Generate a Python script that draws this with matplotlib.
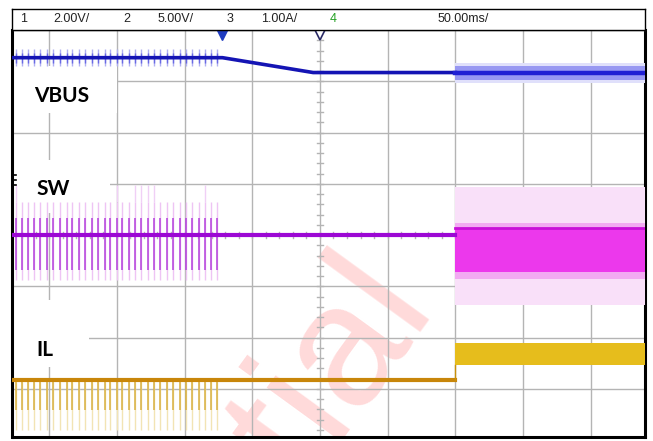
import numpy as np
import matplotlib.pyplot as plt
from matplotlib.patches import Rectangle

# scope settings (header bar)
header_labels = ['1', '2.00V/', '2', '5.00V/', '3', '1.00A/', '4', '50.00ms/']
header_colors = ['#222222'] * 6 + ['#22a022', '#222222']

# time axis in ms (50 ms/div), vertical axis in divisions
t_left, t_right = -227.0, 240.0
div_bottom, div_top = -3.94, 4.0
t_step = 100.0  # load switch-on instant

# switching pulses before VBUS sags (ms)
pulse_t = [-224.5, -220.3, -215.5, -211.0, -206.6, -201.6, -197.0, -192.0,
           -187.1, -182.7, -178.2, -173.4, -168.6, -163.8, -159.0, -155.1,
           -150.2, -145.8, -140.9, -136.6, -132.0, -127.3, -122.6, -118.0,
           -113.2, -108.4, -103.4, -99.0, -94.3, -89.6, -84.9, -80.5, -75.9]
sw_tall_t = [-224.5, -150.2, -136.6, -132.0, -127.3, -122.6, -84.9]

# VBUS (div)
vbus_t = [t_left, -72.0, -5.0, t_step]
vbus_v = [3.46, 3.46, 3.17, 3.17]
vbus_after = 3.17
vbus_band = (3.03, 3.30)
vbus_fringe = (2.96, 3.35)

# SW (div)
sw_level = 0.0
sw_pulse = (-0.68, 0.33)
sw_pulse_faint = (-0.88, 0.64)
sw_band = (-0.72, 0.13)
sw_fringe = (-1.36, 0.94)

# IL (div)
il_level = -2.83
il_pulse = (-3.41, -2.87)
il_pulse_faint = (-3.80, -2.87)
il_band = (-2.53, -2.10)

fig = plt.figure(figsize=(6.53, 4.41), dpi=100)
W, H = 653.0, 441.0
ax = fig.add_axes([12.5 / W, 4 / H, (645 - 12.5) / W, (437 - 30) / H])
ax.set_xlim(t_left, t_right)
ax.set_ylim(div_bottom, div_top)
ax.set_xticks([])
ax.set_yticks([])
for s in ['left', 'right', 'bottom']:
    ax.spines[s].set_linewidth(2.2)
    ax.spines[s].set_color('black')
ax.spines['top'].set_linewidth(1)
ax.spines['top'].set_color('#555555')

# graticule
grid_c = '#b4b4b4'
for t in [-200, -150, -100, -50, 0, 50, 100, 150, 200]:
    ax.axvline(t, color=grid_c, lw=1, zorder=1)
for d in [-3, -2, -1, 0, 1, 2, 3]:
    ax.axhline(d, color=grid_c, lw=1, zorder=1)
for d in np.arange(-3.8, 4.0, 0.2):
    ax.plot([-2.2, 2.2], [d, d], color=grid_c, lw=1, zorder=1)
for t in np.arange(-220, 241, 10):
    ax.plot([t, t], [-0.06, 0.06], color=grid_c, lw=1, zorder=1)

# watermark
ax.text(84, -1.33, 'Confidential', fontsize=125, rotation=54,
        rotation_mode='anchor', ha='right', va='baseline',
        color='#ffdada', family='Liberation Sans', zorder=0.5, clip_on=True)

# label boxes
boxes = [((-227, 2.38), 77, 0.91, 'VBUS', (-190.6, 2.71)),
         ((-227, 0.43), 72, 1.03, 'SW', (-197.0, 0.89)),
         ((-227, -2.57), 56.4, 1.30, 'IL', (-203.0, -2.24))]
for xy, w, h, lab, pos in boxes:
    ax.add_patch(Rectangle(xy, w, h, facecolor='white', edgecolor='none', zorder=2))
    ax.text(pos[0], pos[1], lab, fontsize=15, fontweight='bold', family='Lato',
            ha='center', va='center', color='black', zorder=3)

# channel marker near SW
for d in [1.18, 1.08, 0.98]:
    ax.plot([t_left, t_left + 2.5], [d, d], color='black', lw=1.2, zorder=6,
            clip_on=False)

# --- VBUS ---
ax.vlines(pulse_t, 3.29, 3.63, color='#b0b0f2', lw=1, zorder=4)
ax.vlines(pulse_t, 3.36, 3.56, color='#6a6ae4', lw=1, zorder=4)
ax.plot(vbus_t, vbus_v, color='#1414b4', lw=2.6, zorder=5)
ax.fill_between([t_step, t_right], vbus_fringe[0], vbus_fringe[1],
                color='#e0e0fb', lw=0, zorder=4)
ax.fill_between([t_step, t_right], vbus_band[0], vbus_band[1],
                color='#9898f2', lw=0, zorder=4)
ax.plot([t_step, t_right], [vbus_after, vbus_after], color='#2020d4', lw=3.2, zorder=5)

# --- SW ---
ax.vlines(sw_tall_t, 0.64, 0.97, color='#f0d0f6', lw=1, zorder=4)
ax.vlines(pulse_t, sw_pulse_faint[0], sw_pulse_faint[1], color='#eec4f4', lw=1, zorder=4)
ax.vlines(pulse_t, sw_pulse[0], sw_pulse[1], color='#b440dc', lw=1.1, zorder=4)
ax.plot([t_left, t_step], [sw_level, sw_level], color='#9c08d4', lw=3, zorder=5)
ax.fill_between([t_step, t_right], sw_fringe[0], sw_fringe[1],
                color='#f9e0f9', lw=0, zorder=4)
ax.fill_between([t_step, t_right], sw_band[0] - 0.14, sw_band[1] + 0.1,
                color='#f2aaf2', lw=0, zorder=4)
ax.fill_between([t_step, t_right], sw_band[0], sw_band[1],
                color='#ec38ec', lw=0, zorder=4)
ax.plot([t_step, t_right], [sw_band[1], sw_band[1]], color='#c810d8', lw=2, zorder=5)

# --- IL ---
ax.vlines(pulse_t, il_pulse_faint[0], il_pulse_faint[1], color='#f2e4b4', lw=1, zorder=4)
ax.vlines(pulse_t, il_pulse[0], il_pulse[1], color='#d8b040', lw=1.1, zorder=4)
ax.plot([t_left, t_step], [il_level, il_level], color='#c8860a', lw=3, zorder=5)
ax.plot([t_step, t_step], [il_level, il_band[0]], color='#c8900a', lw=1, zorder=5)
ax.fill_between([t_step, t_right], il_band[0], il_band[1],
                color='#e6bd1c', lw=0, zorder=4)

# trigger / position markers
ax.plot([-72], [3.93], marker='v', ms=8, color='#1f3cc0', mec='#1f3cc0',
        clip_on=False, zorder=7)
ax.plot([0], [3.93], marker='v', ms=8, mfc='white', mec='#2a2a66', mew=1.2,
        clip_on=False, zorder=7)

# header bar
hx = fig.add_axes([12.5 / W, (441 - 30) / H, (645 - 12.5) / W, (30 - 9) / H])
hx.set_xlim(12.5, 645)
hx.set_ylim(30, 9)
hx.set_xticks([])
hx.set_yticks([])
for s in hx.spines.values():
    s.set_linewidth(1)
    s.set_color('black')
header_x = [24, 71, 127, 176, 230, 279, 333, 463]
for x, lab, c in zip(header_x, header_labels, header_colors):
    hx.text(x, 19.5, lab, fontsize=9, ha='center', va='center', color=c,
            family='Liberation Sans')

fig.savefig('out.png', dpi=100)
